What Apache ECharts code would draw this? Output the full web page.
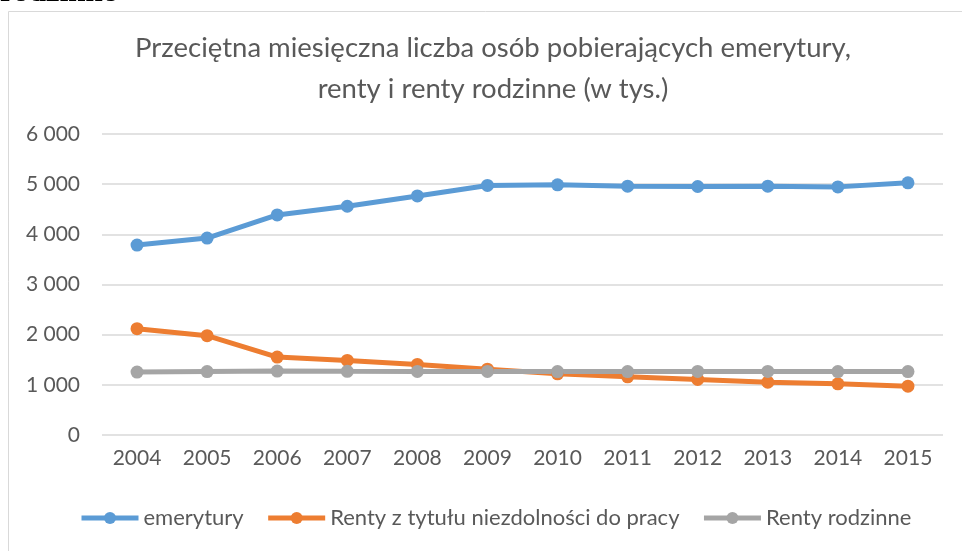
<!DOCTYPE html>
<html>
<head>
<meta charset="utf-8">
<script src="https://cdn.jsdelivr.net/npm/echarts@6/dist/echarts.min.js"></script>
<style>
  html, body { margin: 0; padding: 0; background: #fff; }
  #chart { width: 962px; height: 551px; }
</style>
</head>
<body>
<div id="chart"></div>
<script>
const years = ['2004', '2005', '2006', '2007', '2008', '2009', '2010', '2011', '2012', '2013', '2014', '2015']
const emerytury = [3786, 3926, 4386, 4560, 4766, 4974, 4986, 4960, 4954, 4960, 4946, 5026]
const rentyNiezdolnosc = [2120, 1980, 1553, 1487, 1407, 1313, 1220, 1160, 1107, 1053, 1020, 973]
const rentyRodzinne = [1255, 1265, 1275, 1270, 1268, 1268, 1265, 1265, 1267, 1267, 1265, 1265]

const chart = echarts.init(document.getElementById('chart'))
const font = 'Lato'
const textColor = '#595959'

const mkSeries = (name, data, color) => ({
  name,
  type: 'line',
  data,
  symbol: 'circle',
  symbolSize: 13,
  lineStyle: { width: 5, color },
  itemStyle: { color },
  emphasis: { disabled: true }
})

chart.setOption({
  animation: false,
  title: {
    text: 'Przeciętna miesięczna liczba osób pobierających emerytury,\nrenty i renty rodzinne (w tys.)',
    left: 488,
    textAlign: 'center',
    top: 23,
    textStyle: {
      color: textColor,
      fontFamily: font,
      fontWeight: 'normal',
      fontSize: 27.5,
      lineHeight: 41
    }
  },
  graphic: [
    {
      type: 'rect',
      shape: { x: 8.5, y: 11.5, width: 1000, height: 600 },
      style: { fill: 'none', stroke: '#d9d9d9', lineWidth: 1 },
      silent: true,
      z: -1
    },
    {
      type: 'text',
      x: 0,
      y: 0,
      style: {
        x: 0,
        y: 8,
        text: 'rodzinne',
        font: 'bold 31px "Liberation Serif"',
        fill: '#000',
        verticalAlign: 'bottom'
      },
      silent: true
    }
  ],
  legend: {
    bottom: 17,
    left: 74,
    itemWidth: 57,
    itemHeight: 15,
    itemGap: 22,
    lineStyle: { width: 5 },
    textStyle: { color: textColor, fontFamily: font, fontSize: 22 },
    data: ['emerytury', 'Renty z tytułu niezdolności do pracy', 'Renty rodzinne']
  },
  grid: { left: 102, right: 19, top: 134, bottom: 116 },
  xAxis: {
    type: 'category',
    data: years,
    boundaryGap: true,
    axisLine: { show: false },
    axisTick: { show: false },
    axisLabel: { color: textColor, fontFamily: font, fontSize: 21, margin: 13 }
  },
  yAxis: {
    type: 'value',
    min: 0,
    max: 6000,
    interval: 1000,
    axisLine: { show: false },
    axisTick: { show: false },
    splitLine: { lineStyle: { color: '#d9d9d9', width: 1.5 } },
    axisLabel: {
      color: textColor,
      fontFamily: font,
      fontSize: 21,
      margin: 22,
      formatter: v => v === 0 ? '0' : String(v).replace(/\B(?=(\d{3})+$)/g, ' ')
    }
  },
  series: [
    mkSeries('emerytury', emerytury, '#5b9bd5'),
    mkSeries('Renty z tytułu niezdolności do pracy', rentyNiezdolnosc, '#ed7d31'),
    mkSeries('Renty rodzinne', rentyRodzinne, '#a5a5a5')
  ]
})
</script>
</body>
</html>
